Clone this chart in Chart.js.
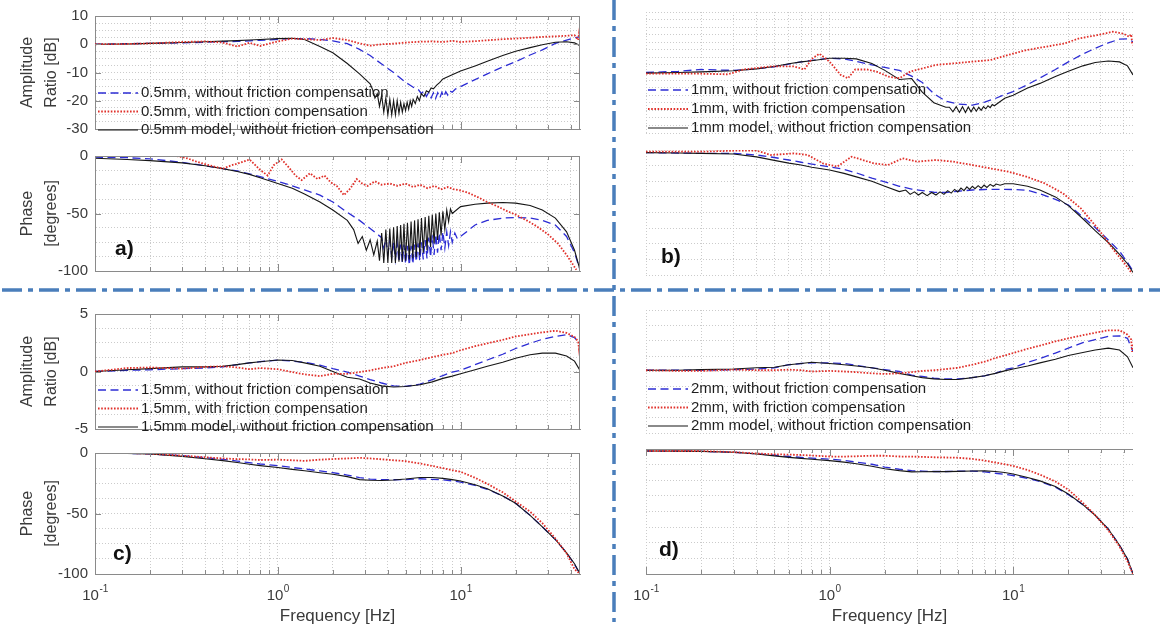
<!DOCTYPE html>
<html>
<head>
<meta charset="utf-8">
<script src="https://cdn.jsdelivr.net/npm/chart.js@4.4.1/dist/chart.umd.min.js"></script>
<style>
  body { margin: 0; background: #fff; }
  #page { position: relative; width: 1160px; height: 632px; overflow: hidden; background: #fff; }
  #page canvas { position: absolute; }
  #sep { position: absolute; left: 0; top: 0; }
</style>
</head>
<body>
<div id="page">
  <canvas id="ampA" width="600" height="145" style="left:0;top:0"></canvas>
  <canvas id="phaseA" width="600" height="147" style="left:0;top:140px"></canvas>
  <canvas id="ampB" width="600" height="145" style="left:551px;top:0"></canvas>
  <canvas id="phaseB" width="600" height="147" style="left:551px;top:140px"></canvas>
  <canvas id="ampC" width="600" height="147" style="left:0;top:298px"></canvas>
  <canvas id="phaseC" width="600" height="195" style="left:0;top:437px"></canvas>
  <canvas id="ampD" width="600" height="147" style="left:551px;top:298px"></canvas>
  <canvas id="phaseD" width="600" height="195" style="left:551px;top:437px"></canvas>
  <svg id="sep" width="1160" height="632">
    <line x1="2" y1="290" x2="1160" y2="290" stroke="#4a7ebb" stroke-width="3.5" stroke-dasharray="20 6 5 6"/>
    <line x1="614" y1="0" x2="614" y2="622" stroke="#4a7ebb" stroke-width="3.5" stroke-dasharray="20 6 5 6"/>
  </svg>
</div>
<script>
// shared frequency points for the smooth traces (Hz)
const freqGrid = [0.1,0.15,0.2,0.3,0.4,0.5,0.6,0.7,0.8,1,1.2,1.4,1.7,2,2.4,2.8,3.2,3.7,4.3,5,6,7,8,9,10,12,14,17,20,24,28,33,38,42,45];
// same points, with the scribble at the top end of the measured amplitude
const freqGridEnd = [0.1,0.15,0.2,0.3,0.4,0.5,0.6,0.7,0.8,1,1.2,1.4,1.7,2,2.4,2.8,3.2,3.7,4.3,5,6,7,8,9,10,12,14,17,20,24,28,33,38,42,44,44.5,45];

// ---- a) 0.5 mm ----
const ampA_blueFreq = [0.1,0.15,0.2,0.3,0.4,0.5,0.6,0.7,0.8,1,1.2,1.4,1.7,2,2.4,2.8,3.2,3.7,4.3,5,
  5.3,5.6,5.9,6.1,6.3,6.5,6.7,6.9,7.1,7.3,7.5,7.7,7.9,8.1,8.3,8.5,8.7,9.0,9.4,
  10,12,14,17,20,24,28,33,38,42,45];
const ampA_blue = [0,0.2,0.3,0.5,0.7,0.9,1.0,1.2,1.4,1.7,2.0,2.0,1.7,1.2,0.2,-1.8,-4,-7,-10,-13.5,
  -14.5,-15.5,-16.2,-17.5,-16.5,-18.5,-17,-19,-17.2,-19.2,-17.2,-19,-17,-18.6,-16.8,-18,-16.5,-17,-15.8,
  -15,-12.5,-10.5,-8,-6.2,-3.8,-2,0.3,1.5,2.3,2.6];
const ampA_red = [0,0.1,0.3,0.8,1.0,0.6,-0.8,0.5,-0.6,1.0,2.0,1.8,1.5,2.2,1.5,0.3,-0.5,0.0,0.2,0.6,
  0.9,1.0,0.8,1.2,0.8,1.1,1.4,1.8,2.0,2.3,2.6,2.8,3.0,3.2,1.5,3.9,2.2];
const ampA_blackFreq = [0.1,0.15,0.2,0.3,0.4,0.5,0.6,0.7,0.8,1,1.2,1.4,1.7,2,2.4,2.8,3.2,
  3.3,3.4,3.5,3.6,3.7,3.8,3.9,4.0,4.1,4.2,4.3,4.4,4.5,4.6,4.7,4.8,4.9,5.0,5.1,5.2,5.3,5.4,5.5,
  5.65,5.8,5.95,6.1,6.3,6.5,6.7,6.9,7.1,7.4,7.7,8.0,
  9,10,12,14,17,20,24,28,33,38,42,45];
const ampA_black = [0,0.1,0.3,0.6,0.9,1.1,1.3,1.5,1.7,2.0,2.1,1.7,-0.8,-3.0,-6.8,-10.5,-14,
  -16,-19,-17.5,-22,-18,-24,-19,-25,-19.5,-25,-20,-25,-20,-24.5,-20.5,-24,-21,-23.5,-20.5,-23,-20,-22,-19.5,
  -21,-18.5,-20,-17.5,-18.5,-16.5,-17,-15.5,-15.8,-14.5,-13.5,-12.3,
  -10.8,-9.5,-7.7,-6,-4,-2.5,-1.2,-0.2,0.7,0.9,0.5,-0.5];

const phaseA_blueFreq = [0.1,0.15,0.2,0.3,0.4,0.5,0.6,0.7,0.8,1,1.2,1.4,1.7,2,2.4,2.8,3.2,3.7,
  3.8,3.9,4.0,4.1,4.2,4.3,4.4,4.5,4.6,4.7,4.8,4.9,5.0,5.12,5.24,5.36,5.48,5.6,5.72,5.85,5.98,
  6.11,6.25,6.4,6.55,6.7,6.85,7.0,7.16,7.32,7.48,7.65,7.82,8.0,8.2,8.4,8.6,8.8,9.0,9.3,9.6,
  10,12,14,17,20,24,28,33,38,42,45];
const phaseA_blue = [-1,-1.5,-2.5,-5.5,-8.5,-11,-13,-15.5,-18,-22,-26,-29.5,-34,-40,-49,-56,-63,-71,
  -80,-72,-85,-74,-88,-75,-90,-76,-92,-77,-93,-77,-94,-78,-95,-78,-94,-77,-92,-76,-91,
  -75,-90,-73,-89,-71,-88,-69,-86,-68,-84,-67,-82,-66,-80,-66,-78,-66,-75,-67,-72,
  -70,-60,-56,-54,-53.5,-54,-56,-60,-70,-84,-99];
const phaseA_redFreq = [0.28,0.32,0.36,0.42,0.5,0.56,0.62,0.7,0.8,0.88,0.95,1.05,1.15,1.25,1.35,1.5,1.65,1.8,1.95,2.1,
  2.3,2.5,2.7,2.9,3.1,3.4,3.7,4.1,4.5,5,5.5,6,6.6,7.2,7.8,8.5,9.2,10,11,12.5,14,16,18,20,23,26,30,34,38,41,43];
const phaseA_red = [0,-2,-5,-8,-11,-8,-6,-3,-12,-17,-8,-3,-10,-17,-21,-15,-20,-17,-23,-26,
  -34,-28,-20,-24,-26,-22,-25,-24,-26,-24,-27,-25,-28,-26,-29,-27,-29,-30,-32,-36,-40,-44,-48,-51,-56,-61,-68,-76,-86,-94,-99];
const phaseA_blackFreq = [0.1,0.15,0.2,0.3,0.4,0.5,0.6,0.7,0.8,1,1.2,1.4,1.7,2,2.4,
  2.6,2.75,2.9,3.05,3.2,3.35,3.5,3.6,3.7,3.8,3.9,4.0,4.1,4.2,4.3,4.4,4.5,4.6,4.7,4.8,4.9,5.0,
  5.12,5.24,5.36,5.48,5.6,5.72,5.85,5.98,6.11,6.25,6.4,6.55,6.7,6.85,7.0,
  7.16,7.32,7.48,7.65,7.82,8.0,8.2,8.4,8.6,8.8,9.0,
  10,12,14,17,20,24,28,33,38,42,45];
const phaseA_black = [-2,-3,-4,-6,-8.5,-11,-13.5,-16,-19,-24,-28,-33,-40,-47,-56,
  -64,-76,-70,-82,-73,-86,-74,-91,-67,-93,-64,-93,-63,-93,-62,-93,-61,-92,-60,-92,-59,-91,
  -58,-90,-57,-89,-56,-88,-55,-86,-54,-84,-53,-82,-52,-79,-51,
  -76,-50,-73,-49,-69,-48,-64,-47,-57,-46,-50,
  -44,-42,-41,-40.5,-41,-43,-47,-54,-66,-82,-99];

// ---- b) 1 mm ----
const ampB_blue = [-10,-9.6,-9,-9.3,-8.8,-8.1,-7.2,-6.5,-6,-5.3,-5.5,-6.3,-7.5,-8.3,-9.3,-11.2,-13.3,-17,-19.5,-20.4,
  -20.8,-19.8,-18.6,-17.3,-16.3,-14,-11.8,-9,-6.5,-3.9,-2,-0.2,1.0,1.1,0.2];
const ampB_redFreq = [0.1,0.2,0.28,0.34,0.48,0.64,0.73,0.8,0.88,1.0,1.15,1.26,1.38,1.6,1.8,2.1,2.4,2.75,3.0,3.8,
  4.7,6.0,7.5,9.4,11.8,15,19,23,29,35,40,43,44,44.5,45];
const ampB_red = [-10.4,-10.4,-10.6,-9,-8,-8,-9,-5.5,-3.8,-6.4,-10.8,-11.9,-9,-9,-9.7,-11.4,-11.9,-9.7,-9.1,-7.5,
  -7,-6.4,-5.9,-4.2,-2.6,-1.5,-0.4,1.3,2.4,3.5,2.8,1.8,2.6,-0.2,-1];
const ampB_blackFreq = [0.1,0.15,0.2,0.3,0.4,0.5,0.6,0.7,0.8,1,1.2,1.4,1.7,2,2.4,2.8,3.2,3.7,4.3,
  4.5,4.7,4.9,5.1,5.3,5.5,5.7,5.9,6.1,6.3,6.5,6.7,6.9,7.1,7.3,7.5,7.7,7.9,
  9,10,12,14,17,20,24,28,33,38,42,45];
const ampB_black = [-10.2,-10,-9.8,-9.4,-8.8,-8,-7.1,-6.5,-6.1,-5.3,-5.3,-5.5,-7,-9.3,-12.3,-12,-16.5,-20,-21.5,
  -21.5,-23,-21.3,-23.2,-21.3,-23.2,-21.4,-23,-21.4,-22.8,-21.5,-22.5,-21.3,-22,-21,-21.6,-20.6,-21,
  -18.5,-17.5,-15.1,-13.6,-11.3,-9.6,-7.8,-6.7,-6.2,-6.5,-7.8,-10.8];

const phaseB_blue = [-2.1,-2.4,-2.7,-2.7,-4,-6,-8,-9.8,-11.3,-13.5,-15.5,-18.3,-22.5,-25.5,-29,-31.3,-32.5,-33.8,-34,-33,
  -32,-31.6,-31.5,-31.5,-31.6,-32.3,-35,-39.5,-44,-53.5,-62,-72,-81,-90,-97];
const phaseB_redFreq = [0.1,0.21,0.31,0.4,0.48,0.64,0.76,0.92,1.1,1.32,1.74,2.08,2.5,3.0,3.8,4.7,6.0,7.5,9.4,11.8,
  14.9,18.7,23.4,29.4,35.3,40.5,44.4];
const phaseB_red = [-1.3,-1.3,-0.5,-0.5,-4,-2.7,-4,-10.7,-13.3,-5.3,-10.7,-12,-6.7,-9.3,-8,-9.3,-12,-14.7,-17.3,-21.3,
  -26.7,-34.7,-46.7,-64,-80,-90.7,-98.7];
const phaseB_blackFreq = [0.1,0.15,0.2,0.3,0.4,0.5,0.6,0.7,0.8,1,1.2,1.4,1.7,2,2.4,
  2.6,2.75,2.9,3.05,3.2,3.4,3.6,3.8,4.0,4.2,4.4,4.6,4.8,5.0,5.2,5.4,5.6,5.8,6.0,6.2,6.45,6.7,6.95,7.2,7.5,7.8,8.1,8.5,9.0,
  10,12,14,17,20,24,28,33,38,42,45];
const phaseB_black = [-2.1,-2.4,-2.7,-3.2,-5.5,-8.3,-10.5,-12,-13.8,-16,-18.7,-21.5,-25,-29,-33.3,
  -32,-35.5,-33.5,-36,-34,-36.5,-34,-36,-33.5,-35.5,-32.5,-34.5,-31.5,-33.5,-30.5,-32.5,-29.5,-31.5,-29,-31,
  -28.5,-30.5,-28,-30,-27.5,-29,-27.2,-28.2,-27,
  -27,-29,-32,-37.5,-44.5,-55,-64.5,-74,-83.5,-91,-98];

// ---- c) 1.5 mm ----
const ampC_blue = [0,0.1,0.15,0.25,0.3,0.4,0.6,0.75,0.85,1.0,0.9,0.8,0.55,0.25,-0.05,-0.4,-0.7,-1.0,-1.25,-1.3,
  -1.1,-0.7,-0.35,-0.05,0.1,0.6,1.0,1.5,2.0,2.45,2.8,3.05,3.2,2.95,2.4];
const ampC_red = [0,0.3,0.35,0.25,0.4,0.45,0.35,0.2,0.3,0.2,-0.05,-0.25,-0.4,-0.2,-0.2,-0.05,0.1,0.3,0.45,0.75,
  1.0,1.25,1.45,1.6,1.85,2.2,2.45,2.75,3.05,3.25,3.4,3.55,3.35,3.0,2.6,1.9,2.5];
const ampC_black = [0,0.15,0.25,0.4,0.4,0.45,0.6,0.75,0.85,1.0,0.95,0.75,0.45,0.0,-0.5,-0.65,-1.0,-1.25,-1.35,-1.3,
  -1.15,-0.9,-0.6,-0.4,-0.2,0.15,0.45,0.8,1.15,1.45,1.6,1.6,1.35,0.9,0.1];
const phaseC_blue = [0,-0.3,-0.8,-2.2,-3.9,-5.2,-6.7,-8,-9.1,-10.5,-12,-13.2,-14.8,-16.3,-18.2,-20.3,-21.6,-22,-22.1,-22,
  -21.3,-21.8,-22.2,-23,-24,-26.8,-30,-35.5,-41.5,-51.5,-61,-71.5,-82.5,-92,-100];
const phaseC_red = [0,0,-0.5,-2.2,-3.5,-4.5,-5,-5.3,-5.8,-5.5,-6,-6.5,-5.5,-5,-4.5,-4,-4.5,-5.2,-6,-6.7,
  -8.7,-10.7,-12.5,-14.2,-15.5,-20.5,-25.5,-32.5,-40,-48.5,-58,-70.7,-83,-96,-100];
const phaseC_black = [0,-0.3,-0.8,-2.8,-4.8,-6.3,-7.9,-9.3,-10.4,-12,-13.5,-14.7,-16.3,-17.5,-19.5,-22,-22.5,-22.7,-22.3,-21.5,
  -20.2,-20.3,-21,-22,-23.2,-26.3,-29.5,-35.5,-41.5,-51.5,-61,-71.5,-82.5,-91.5,-100];

// ---- d) 2 mm ----
const ampD_blue = [0.1,0.1,0.1,0.15,0.2,0.3,0.55,0.65,0.7,0.7,0.65,0.5,0.3,0.15,0.0,-0.3,-0.4,-0.55,-0.6,-0.6,
  -0.5,-0.35,-0.15,0.15,0.3,0.75,1.05,1.5,1.9,2.35,2.6,2.85,2.9,2.7,1.6];
const ampD_red = [0.1,0.05,0.05,0.15,0.1,0.1,0.15,0.1,0.0,0.05,0.0,-0.05,-0.15,-0.2,-0.15,-0.05,0.05,0.1,0.2,0.3,
  0.55,0.8,1.1,1.3,1.5,1.85,2.1,2.45,2.7,2.95,3.15,3.35,3.35,3.0,2.6,1.6,2.3];
const ampD_black = [0.1,0.1,0.15,0.2,0.3,0.35,0.55,0.65,0.75,0.65,0.55,0.45,0.3,0.1,-0.15,-0.35,-0.5,-0.6,-0.65,-0.65,
  -0.5,-0.35,-0.15,0.05,0.2,0.45,0.7,1.0,1.3,1.55,1.75,1.9,1.75,1.2,0.3];
const phaseD_blue = [-1.6,-1.7,-1.9,-2.6,-3.8,-5,-6,-6.7,-7.3,-8.1,-9.2,-10.5,-12.2,-14.5,-16.2,-17.3,-17.7,-18,-18,-17.8,
  -17.7,-18.3,-19.4,-20.3,-21.2,-23.5,-26,-30.5,-36.5,-44.5,-53,-64,-77,-88,-100];
const phaseD_red = [-1.6,-1.6,-1.6,-2.5,-3.6,-4.2,-4.5,-4.8,-5.2,-6,-6.1,-5.8,-5.4,-5.4,-6,-6.1,-6.3,-6.6,-6.8,-7,
  -7.9,-9.3,-10.8,-12.2,-13.5,-16.8,-20.5,-26,-32.5,-43,-53,-65,-78,-90,-100];
const phaseD_black = [-1.6,-1.7,-1.9,-2.6,-4,-5.5,-6.7,-7.5,-8.2,-9.3,-10.5,-11.8,-13.8,-15.8,-17.3,-18.3,-18.2,-18,-18.1,-17.9,
  -17.6,-17.5,-18,-18.8,-20,-22.8,-25.5,-30,-36,-44.5,-53,-64,-77,-88,-100];

// log grid positions on the frequency axis, and the labelled decades
const xGridValues = [0.1,0.2,0.3,0.4,0.5,0.6,0.7,0.8,0.9,1,2,3,4,5,6,7,8,9,10,20,30,40];
const xDecades = [0.1, 1, 10];
const xDecadeExp = ['-1', '0', '1'];

const FONT = '"Liberation Sans", Arial, sans-serif';
const gridColor = '#cbcbcb';
const frameColor = '#8a8a8a';
const textColor = '#3a3a3a';

const blueStyle = {borderColor: '#2c2cd4', borderWidth: 1.3, borderDash: [8, 4.5], order: 2};
const redStyle = {borderColor: '#e0302a', borderWidth: 1.8, borderDash: [1.6, 1.6], order: 0};
const blackStyle = {borderColor: '#161616', borderWidth: 1.1, order: 1};

function yGrid(min, max, step) {
  const out = [];
  for (let v = min; v <= max + 1e-9; v += step) out.push(+v.toFixed(3));
  return out;
}

// frame lines and inward tick marks
const framePlugin = {
  id: 'frame',
  afterDraw(chart, args, o) {
    const {ctx, chartArea: a, scales: {x, y}} = chart;
    ctx.save();
    ctx.strokeStyle = frameColor;
    ctx.lineWidth = 1;
    ctx.beginPath();
    if (o.top) { ctx.moveTo(a.left, a.top + 0.5); ctx.lineTo(a.right, a.top + 0.5); }
    if (o.right) { ctx.moveTo(a.right - 0.5, a.top); ctx.lineTo(a.right - 0.5, a.bottom); }
    (o.xTicks || []).forEach(side => {
      xGridValues.forEach(v => {
        const px = Math.round(x.getPixelForValue(v)) + 0.5;
        const len = xDecades.includes(v) ? 7 : 4;
        if (side === 'bottom') { ctx.moveTo(px, a.bottom); ctx.lineTo(px, a.bottom - len); }
        else { ctx.moveTo(px, a.top); ctx.lineTo(px, a.top + len); }
      });
    });
    (o.yTicks || []).forEach(side => {
      yGrid(o.yMin, o.yMax, o.yMajor).forEach(v => {
        const py = Math.round(y.getPixelForValue(v)) + 0.5;
        if (side === 'left') { ctx.moveTo(a.left, py); ctx.lineTo(a.left + 6, py); }
        else { ctx.moveTo(a.right, py); ctx.lineTo(a.right - 6, py); }
      });
    });
    ctx.stroke();
    ctx.restore();
  }
};

// line samples with their labels, inside the plot
const keyPlugin = {
  id: 'lineKey',
  afterDraw(chart, args, o) {
    if (!o.show) return;
    const {ctx, chartArea: a} = chart;
    chart.data.datasets.forEach((ds, i) => {
      const x = a.left + o.dx;
      const y = a.top + o.dy + i * o.gap;
      ctx.save();
      ctx.strokeStyle = ds.borderColor;
      ctx.lineWidth = ds.borderWidth;
      ctx.setLineDash(ds.borderDash || []);
      ctx.beginPath();
      ctx.moveTo(x, y);
      ctx.lineTo(x + 40, y);
      ctx.stroke();
      ctx.setLineDash([]);
      ctx.fillStyle = '#1e1e1e';
      ctx.font = '15px ' + FONT;
      ctx.textBaseline = 'middle';
      ctx.fillText(ds.label, x + 43, y);
      ctx.restore();
    });
  }
};

// panel letter
const tagPlugin = {
  id: 'tag',
  afterDraw(chart, args, o) {
    if (!o.text) return;
    const {ctx, chartArea: a} = chart;
    ctx.save();
    ctx.fillStyle = '#111';
    ctx.font = 'bold 21px ' + FONT;
    ctx.textBaseline = 'middle';
    ctx.fillText(o.text, a.left + o.dx, a.top + o.dy);
    ctx.restore();
  }
};

// decade labels 10^n under the frequency axis
const decadePlugin = {
  id: 'decades',
  afterDraw(chart, args, o) {
    if (!o.show) return;
    const {ctx, chartArea: a, scales: {x}} = chart;
    ctx.save();
    ctx.fillStyle = textColor;
    ctx.textBaseline = 'alphabetic';
    xDecades.forEach((v, i) => {
      ctx.font = '15px ' + FONT;
      const wBase = ctx.measureText('10').width;
      ctx.font = '10px ' + FONT;
      const wExp = ctx.measureText(xDecadeExp[i]).width;
      const left = x.getPixelForValue(v) - (wBase + wExp) / 2;
      ctx.font = '15px ' + FONT;
      ctx.fillText('10', left, a.bottom + 26);
      ctx.font = '10px ' + FONT;
      ctx.fillText(xDecadeExp[i], left + wBase + 0.5, a.bottom + 18);
    });
    ctx.restore();
  }
};

function makePanel(id, o) {
  const datasets = o.series.map(s => Object.assign({
    label: s.label,
    data: s.freq.map((f, i) => ({x: f, y: s.values[i]})),
    pointRadius: 0,
    fill: false,
    tension: 0
  }, s.style));
  return new Chart(document.getElementById(id), {
    type: 'line',
    data: {datasets},
    options: {
      responsive: false,
      animation: false,
      events: [],
      layout: {padding: o.padding},
      scales: {
        x: {
          type: 'logarithmic', min: 0.1, max: 45,
          afterBuildTicks: s => { s.ticks = xGridValues.map(v => ({value: v})); },
          afterFit: s => { s.height = o.xTitle ? 58 : 0; },
          ticks: {display: false, autoSkip: false},
          grid: {color: gridColor, drawTicks: false},
          border: {display: !!o.frameBottom, color: frameColor, dash: [1, 2]},
          title: {
            display: !!o.xTitle, text: 'Frequency [Hz]', color: textColor,
            font: {family: FONT, size: 17}, padding: {top: 0, bottom: 5}
          }
        },
        y: {
          type: 'linear', min: o.yMin, max: o.yMax,
          afterBuildTicks: s => { s.ticks = yGrid(o.yMin, o.yMax, o.yStep).map(v => ({value: v})); },
          afterFit: s => { s.width = 95; },
          ticks: {
            display: !!o.yTitle, autoSkip: false, padding: 7, color: textColor,
            font: {family: FONT, size: 15},
            callback: v => (v % o.yMajor === 0 ? String(v) : '')
          },
          grid: {color: gridColor, drawTicks: false},
          border: {display: !!o.frameLeft, color: frameColor, dash: [1, 2]},
          title: {
            display: !!o.yTitle, text: o.yTitle || '', color: textColor,
            font: {family: FONT, size: 16, lineHeight: 1.5}, padding: {top: 16}
          }
        }
      },
      plugins: {
        legend: {display: false},
        tooltip: {enabled: false},
        frame: Object.assign({yMin: o.yMin, yMax: o.yMax, yMajor: o.yMajor}, o.frame || {}),
        lineKey: o.key || {show: false},
        tag: o.tag || {},
        decades: {show: !!o.xTitle}
      }
    },
    plugins: [framePlugin, keyPlugin, tagPlugin, decadePlugin]
  });
}

function trio(mm, blue, red, black) {
  return [
    Object.assign({label: mm + ', without friction compensation', style: blueStyle}, blue),
    Object.assign({label: mm + ', with friction compensation', style: redStyle}, red),
    Object.assign({label: mm + ' model, without friction compensation', style: blackStyle}, black)
  ];
}

const ampLeft = {top: 12, bottom: 12, left: 0, right: 20};
const ampRight = {top: 12, bottom: 12, left: 0, right: 18};

// a)
makePanel('ampA', {
  series: trio('0.5mm', {freq: ampA_blueFreq, values: ampA_blue}, {freq: freqGridEnd, values: ampA_red}, {freq: ampA_blackFreq, values: ampA_black}),
  yMin: -30, yMax: 10, yStep: 2.5, yMajor: 10, yTitle: ['Amplitude', 'Ratio [dB]'],
  padding: ampLeft, frameLeft: true, frameBottom: true,
  frame: {top: true, right: true, xTicks: ['top', 'bottom'], yTicks: ['left', 'right']},
  key: {show: true, dx: 3, dy: 77, gap: 18.5}
});
makePanel('phaseA', {
  series: trio('0.5mm', {freq: phaseA_blueFreq, values: phaseA_blue}, {freq: phaseA_redFreq, values: phaseA_red}, {freq: phaseA_blackFreq, values: phaseA_black}),
  yMin: -100, yMax: 0, yStep: 12.5, yMajor: 50, yTitle: ['Phase', '[degrees]'],
  padding: {top: 10, bottom: 12, left: 0, right: 20}, frameLeft: true, frameBottom: true,
  frame: {top: true, right: true, xTicks: ['top', 'bottom'], yTicks: ['left', 'right']},
  tag: {text: 'a)', dx: 20, dy: 93}
});

// b)
makePanel('ampB', {
  series: trio('1mm', {freq: freqGrid, values: ampB_blue}, {freq: ampB_redFreq, values: ampB_red}, {freq: ampB_blackFreq, values: ampB_black}),
  yMin: -30, yMax: 10, yStep: 2.5, yMajor: 10,
  padding: ampRight,
  key: {show: true, dx: 2, dy: 78, gap: 19}
});
makePanel('phaseB', {
  series: trio('1mm', {freq: freqGrid, values: phaseB_blue}, {freq: phaseB_redFreq, values: phaseB_red}, {freq: phaseB_blackFreq, values: phaseB_black}),
  yMin: -100, yMax: 0, yStep: 12.5, yMajor: 50,
  padding: {top: 10, bottom: 12, left: 0, right: 18},
  tag: {text: 'b)', dx: 15, dy: 107}
});

// c)
makePanel('ampC', {
  series: trio('1.5mm', {freq: freqGrid, values: ampC_blue}, {freq: freqGridEnd, values: ampC_red}, {freq: freqGrid, values: ampC_black}),
  yMin: -5, yMax: 5, yStep: 1.25, yMajor: 5, yTitle: ['Amplitude', 'Ratio [dB]'],
  padding: ampLeft, frameLeft: true, frameBottom: true,
  frame: {top: true, right: true, xTicks: ['top', 'bottom'], yTicks: ['left', 'right']},
  key: {show: true, dx: 3, dy: 76, gap: 18.5}
});
makePanel('phaseC', {
  series: trio('1.5mm', {freq: freqGrid, values: phaseC_blue}, {freq: freqGrid, values: phaseC_red}, {freq: freqGrid, values: phaseC_black}),
  yMin: -100, yMax: 0, yStep: 12.5, yMajor: 50, yTitle: ['Phase', '[degrees]'], xTitle: true,
  padding: {top: 12, bottom: 0, left: 0, right: 20}, frameLeft: true, frameBottom: true,
  frame: {top: true, right: true, xTicks: ['top', 'bottom'], yTicks: ['left', 'right']},
  tag: {text: 'c)', dx: 18, dy: 101}
});

// d)
makePanel('ampD', {
  series: trio('2mm', {freq: freqGrid, values: ampD_blue}, {freq: freqGridEnd, values: ampD_red}, {freq: freqGrid, values: ampD_black}),
  yMin: -5, yMax: 5, yStep: 1.25, yMajor: 5,
  padding: ampRight,
  key: {show: true, dx: 2, dy: 79, gap: 18.5}
});
makePanel('phaseD', {
  series: trio('2mm', {freq: freqGrid, values: phaseD_blue}, {freq: freqGrid, values: phaseD_red}, {freq: freqGrid, values: phaseD_black}),
  yMin: -100, yMax: 0, yStep: 12.5, yMajor: 50, xTitle: true,
  padding: {top: 12, bottom: 0, left: 0, right: 18}, frameBottom: true,
  frame: {top: true, xTicks: ['top', 'bottom']},
  tag: {text: 'd)', dx: 13, dy: 101}
});
</script>
</body>
</html>
